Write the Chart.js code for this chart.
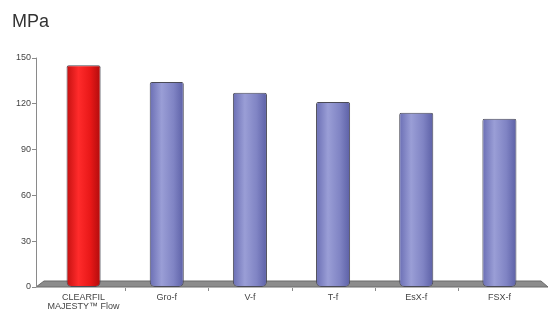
<!DOCTYPE html>
<html lang="en">
<head>
  <meta charset="UTF-8" />
  <title>MPa</title>
  <script src="https://cdn.jsdelivr.net/npm/chart.js"></script>
  <style>
    body { margin: 0; background: #fff; }
    #wrap { width: 549px; height: 311px; position: relative; }
  </style>
</head>
<body>
  <div id="wrap"><canvas id="mpaChart"></canvas></div>

  <script>
    const labels = [['CLEARFIL', 'MAJESTY\u2122 Flow'], 'Gro-f', 'V-f', 'T-f', 'EsX-f', 'FSX-f'];
    const values = [145, 134, 127, 121, 114, 110];
    const yTicks = [0, 30, 60, 90, 120, 150];

    // cylinder-ish shading for each bar
    function barFill(ctx) {
      const chart = ctx.chart;
      const area = chart.chartArea;
      const red = ctx.dataIndex === 0;
      if (!area) return red ? '#e81c1c' : '#8084c4';
      const cx = chart.scales.x.getPixelForValue(ctx.dataIndex);
      const half = (area.right - area.left) / labels.length * 0.41 / 2;
      const g = chart.ctx.createLinearGradient(cx - half, 0, cx + half, 0);
      if (red) {
        g.addColorStop(0, '#c41010');
        g.addColorStop(0.35, '#ff2b2b');
        g.addColorStop(0.7, '#e81818');
        g.addColorStop(1, '#b00c0c');
      } else {
        g.addColorStop(0, '#6a6eb4');
        g.addColorStop(0.35, '#9a9ed6');
        g.addColorStop(0.7, '#8084c4');
        g.addColorStop(1, '#5c60a6');
      }
      return g;
    }

    // grey floor, y axis line and small tick marks
    const floorPlugin = {
      id: 'floor',
      beforeDatasetsDraw(chart) {
        const { ctx, chartArea } = chart;
        const y = chart.scales.y, x = chart.scales.x;
        const y0 = y.getPixelForValue(0);
        const axisX = chartArea.left - 6;
        ctx.save();
        // floor
        ctx.fillStyle = '#8c8c8c';
        ctx.beginPath();
        ctx.moveTo(axisX, y0);
        ctx.lineTo(chartArea.left + 2, y0 - 6);
        ctx.lineTo(chartArea.right, y0 - 6);
        ctx.lineTo(chartArea.right + 7, y0);
        ctx.closePath();
        ctx.fill();
        ctx.strokeStyle = '#6a6a6a';
        ctx.lineWidth = 1;
        ctx.stroke();
        // y axis
        ctx.strokeStyle = '#8a8a8a';
        ctx.beginPath();
        ctx.moveTo(axisX + 0.5, y.getPixelForValue(150));
        ctx.lineTo(axisX + 0.5, y0);
        yTicks.forEach(v => {
          const py = Math.round(y.getPixelForValue(v)) + 0.5;
          ctx.moveTo(axisX - 4, py);
          ctx.lineTo(axisX, py);
        });
        // category separators under the floor
        for (let i = 0; i < labels.length - 1; i++) {
          const px = Math.round((x.getPixelForValue(i) + x.getPixelForValue(i + 1)) / 2) + 0.5;
          ctx.moveTo(px, y0 + 1);
          ctx.lineTo(px, y0 + 4);
        }
        ctx.stroke();
        ctx.restore();
      }
    };

    new Chart(document.getElementById('mpaChart'), {
      type: 'bar',
      data: {
        labels,
        datasets: [{
          data: values,
          backgroundColor: barFill,
          borderColor: '#4a4a55',
          borderWidth: 1,
          borderSkipped: false,
          borderRadius: { topLeft: 2, topRight: 2, bottomLeft: 5, bottomRight: 5 },
          barPercentage: 0.41,
          categoryPercentage: 1
        }]
      },
      options: {
        responsive: true,
        maintainAspectRatio: false,
        animation: false,
        layout: { padding: { left: 12, right: 8, top: 0, bottom: 0 } },
        plugins: {
          legend: { display: false },
          tooltip: { enabled: false },
          title: {
            display: true,
            text: 'MPa',
            align: 'start',
            color: '#333',
            font: { family: 'Liberation Sans, Arial, sans-serif', size: 18, weight: 'normal' },
            padding: { top: 11, bottom: 25 }
          }
        },
        scales: {
          x: {
            afterFit: axis => { axis.height = 24; },
            grid: { display: false, drawTicks: false },
            border: { display: false },
            ticks: {
              color: '#444',
              font: { family: 'Liberation Sans, Arial, sans-serif', size: 9, lineHeight: 1 },
              padding: 6,
              maxRotation: 0,
              autoSkip: false
            }
          },
          y: {
            min: 0,
            max: 150,
            afterBuildTicks: axis => { axis.ticks = yTicks.map(v => ({ value: v })); },
            afterFit: axis => { axis.width = 30; },
            grid: { display: false, drawTicks: false },
            border: { display: false },
            ticks: {
              color: '#444',
              font: { family: 'Liberation Sans, Arial, sans-serif', size: 9 },
              padding: 11
            }
          }
        }
      },
      plugins: [floorPlugin]
    });
  </script>
</body>
</html>
